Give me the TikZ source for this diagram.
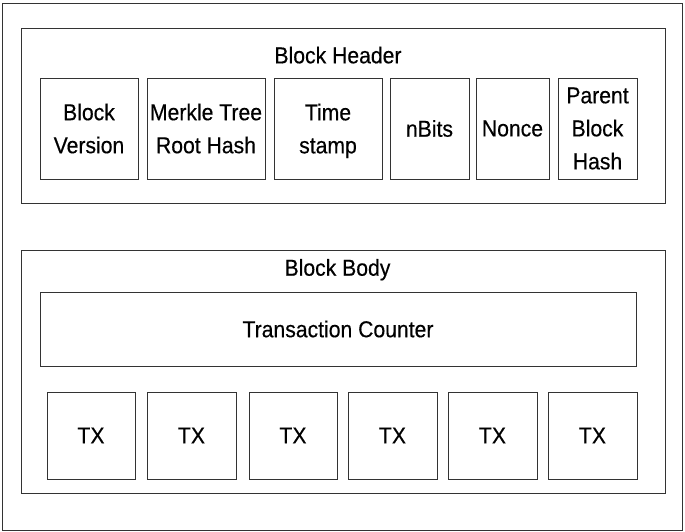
\documentclass[tikz,border=0pt]{standalone}
\usepackage{fontspec}
\setmainfont{Liberation Sans}[FakeStretch=0.92,FakeBold=0.4]
\begin{document}
\begin{tikzpicture}[x=1pt,y=-1pt,
  box/.style={draw=black!80,line width=1pt,inner sep=0pt,align=center,
    font=\fontsize{23}{33}\selectfont},
  ttl/.style={inner sep=0pt,anchor=base,font=\fontsize{23}{33}\selectfont}]
\useasboundingbox (0,0) rectangle (685,531);
% outer frame
\node[box,minimum width=680pt,minimum height=527pt] (outer) at (342,266.5) {};
% header
\node[box,minimum width=644pt,minimum height=175pt] (header) at (343,115.5) {};
\node[ttl] (htitle) at (338,63.3) {Block Header};
\node[box,minimum width=98pt,minimum height=101pt] (ver) at (89,128.5) {Block\\Version};
\node[box,minimum width=118pt,minimum height=101pt] (mrk) at (206,128.5) {Merkle Tree\\Root Hash};
\node[box,minimum width=108pt,minimum height=101pt] (ts) at (328,128.5) {Time\\\smash{stamp}};
\node[box,minimum width=79pt,minimum height=101pt] (nb) at (429.5,128.5) {nBits};
\node[box,minimum width=73pt,minimum height=101pt] (nc) at (512.5,128.5) {Nonce};
\node[box,minimum width=79pt,minimum height=101pt] (pbh) at (597.5,128.5) {Parent\\Block\\Hash};
% body
\node[box,minimum width=644pt,minimum height=243pt] (body) at (343,371.5) {};
\node[ttl] (btitle) at (337.5,275.7) {Block Body};
\node[box,minimum width=596pt,minimum height=74pt] (tc) at (338,329) {Transaction Counter};
\node[box,minimum width=88pt,minimum height=87pt] (tx1) at (91,435.5) {TX};
\node[box,minimum width=89pt,minimum height=87pt] (tx2) at (191.5,435.5) {TX};
\node[box,minimum width=88pt,minimum height=87pt] (tx3) at (293,435.5) {TX};
\node[box,minimum width=89pt,minimum height=87pt] (tx4) at (392.5,435.5) {TX};
\node[box,minimum width=89pt,minimum height=87pt] (tx5) at (492.5,435.5) {TX};
\node[box,minimum width=89pt,minimum height=87pt] (tx6) at (592.5,435.5) {TX};
\end{tikzpicture}
\end{document}
